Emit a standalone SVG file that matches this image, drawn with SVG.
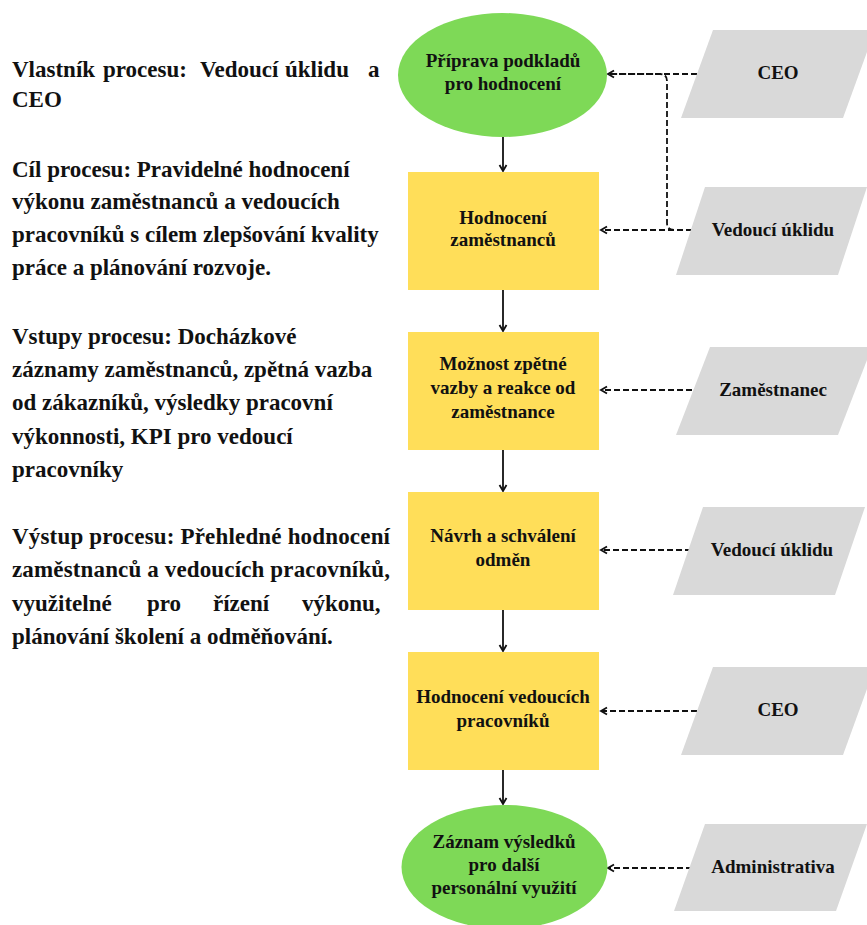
<svg xmlns="http://www.w3.org/2000/svg" width="867" height="925" viewBox="0 0 867 925">
  <style>
    .txt { font-weight: bold; fill: #111; }
    .side { font-size: 23px; }
    .lbl { font-size: 19px; text-anchor: middle; }
    .term { fill: #7ED957; }
    .step { fill: #FFDE59; }
    .actor { fill: #D9D9D9; }
    .flow { stroke: #111; stroke-width: 1.8; fill: none; marker-end: url(#head); }
    .input { stroke: #111; stroke-width: 1.8; fill: none; stroke-dasharray: 6 3; }
    .input.arrow { marker-end: url(#head); }
  </style>
  <defs>
    <marker id="head" markerWidth="10" markerHeight="10" refX="8" refY="5" orient="auto" markerUnits="userSpaceOnUse">
      <path d="M2,1.5 L8,5 L2,8.5" fill="none" stroke="#111" stroke-width="1.8"/>
    </marker>
  </defs>

  <!-- process description -->
  <g id="description" class="txt side" font-family="Liberation Serif, Times New Roman, serif">
    <text y="77"><tspan x="12">Vlastník</tspan><tspan x="103">procesu:</tspan><tspan x="200">Vedoucí</tspan><tspan x="285">úklidu</tspan><tspan x="368">a</tspan></text>
    <text x="12" y="107">CEO</text>

    <text x="12" y="177">Cíl procesu: Pravidelné hodnocení</text>
    <text x="12" y="209">výkonu zaměstnanců a vedoucích</text>
    <text x="12" y="242">pracovníků s cílem zlepšování kvality</text>
    <text x="12" y="275">práce a plánování rozvoje.</text>

    <text x="12" y="344">Vstupy procesu: Docházkové</text>
    <text x="12" y="377">záznamy zaměstnanců, zpětná vazba</text>
    <text x="12" y="410">od zákazníků, výsledky pracovní</text>
    <text x="12" y="444">výkonnosti, KPI pro vedoucí</text>
    <text x="12" y="477">pracovníky</text>

    <text x="12" y="544" textLength="378" lengthAdjust="spacing">Výstup procesu: Přehledné hodnocení</text>
    <text x="12" y="577" textLength="378" lengthAdjust="spacing">zaměstnanců a vedoucích pracovníků,</text>
    <text y="611"><tspan x="12">využitelné</tspan><tspan x="147">pro</tspan><tspan x="213">řízení</tspan><tspan x="302">výkonu,</tspan></text>
    <text x="12" y="644">plánování školení a odměňování.</text>
  </g>

  <!-- connectors -->
  <g id="connectors">
    <path class="flow" d="M503,137 V171"/>
    <path class="flow" d="M503,290 V331"/>
    <path class="flow" d="M503,450 V491"/>
    <path class="flow" d="M503,610 V651"/>
    <path class="flow" d="M503,770 V804"/>

    <path class="input arrow" d="M697,74 H608"/>
    <path class="input arrow" d="M692,230 H601"/>
    <path class="input" d="M692,230 H674 Q667,230 667,223 V81 Q667,74 660,74 H612"/>
    <path class="input arrow" d="M692,390 H601"/>
    <path class="input arrow" d="M691,550 H601"/>
    <path class="input arrow" d="M697,711 H601"/>
    <path class="input arrow" d="M692,868 H608"/>
  </g>

  <!-- process steps -->
  <g font-family="Liberation Serif, Times New Roman, serif">
    <g id="n-priprava">
      <ellipse class="term" cx="502.5" cy="75" rx="104.5" ry="62"/>
      <text class="txt lbl" x="503" y="67">Příprava podkladů</text>
      <text class="txt lbl" x="503" y="90">pro hodnocení</text>
    </g>
    <g id="n-hodnoceni-zam">
      <rect class="step" x="408" y="172" width="191" height="118"/>
      <text class="txt lbl" x="503" y="224">Hodnocení</text>
      <text class="txt lbl" x="503" y="246">zaměstnanců</text>
    </g>
    <g id="n-zpetna-vazba">
      <rect class="step" x="408" y="332" width="191" height="118"/>
      <text class="txt lbl" x="503" y="370">Možnost zpětné</text>
      <text class="txt lbl" x="503" y="394">vazby a reakce od</text>
      <text class="txt lbl" x="503" y="418">zaměstnance</text>
    </g>
    <g id="n-odmeny">
      <rect class="step" x="408" y="492" width="191" height="118"/>
      <text class="txt lbl" x="503" y="542">Návrh a schválení</text>
      <text class="txt lbl" x="503" y="566">odměn</text>
    </g>
    <g id="n-hodnoceni-ved">
      <rect class="step" x="408" y="652" width="191" height="118"/>
      <text class="txt lbl" x="503" y="703">Hodnocení vedoucích</text>
      <text class="txt lbl" x="503" y="727">pracovníků</text>
    </g>
    <g id="n-zaznam">
      <ellipse class="term" cx="504.5" cy="867" rx="103" ry="62"/>
      <text class="txt lbl" x="504" y="848">Záznam výsledků</text>
      <text class="txt lbl" x="504" y="871">pro další</text>
      <text class="txt lbl" x="504" y="894">personální využití</text>
    </g>

    <!-- participants -->
    <g id="a-ceo-1">
      <polygon class="actor" points="713,30 875,30 843,118 681,118"/>
      <text class="txt lbl" x="778" y="79">CEO</text>
    </g>
    <g id="a-vedouci-1">
      <polygon class="actor" points="705,187 867,187 838,275 676,275"/>
      <text class="txt lbl" x="773" y="236">Vedoucí úklidu</text>
    </g>
    <g id="a-zamestnanec">
      <polygon class="actor" points="710,347 872,347 838,435 676,435"/>
      <text class="txt lbl" x="773" y="396">Zaměstnanec</text>
    </g>
    <g id="a-vedouci-2">
      <polygon class="actor" points="703,507 865,507 835,595 673,595"/>
      <text class="txt lbl" x="772" y="556">Vedoucí úklidu</text>
    </g>
    <g id="a-ceo-2">
      <polygon class="actor" points="713,667 875,667 843,755 681,755"/>
      <text class="txt lbl" x="778" y="716">CEO</text>
    </g>
    <g id="a-administrativa">
      <polygon class="actor" points="705,824 867,824 836,911 674,911"/>
      <text class="txt lbl" x="773" y="873">Administrativa</text>
    </g>
  </g>
</svg>
